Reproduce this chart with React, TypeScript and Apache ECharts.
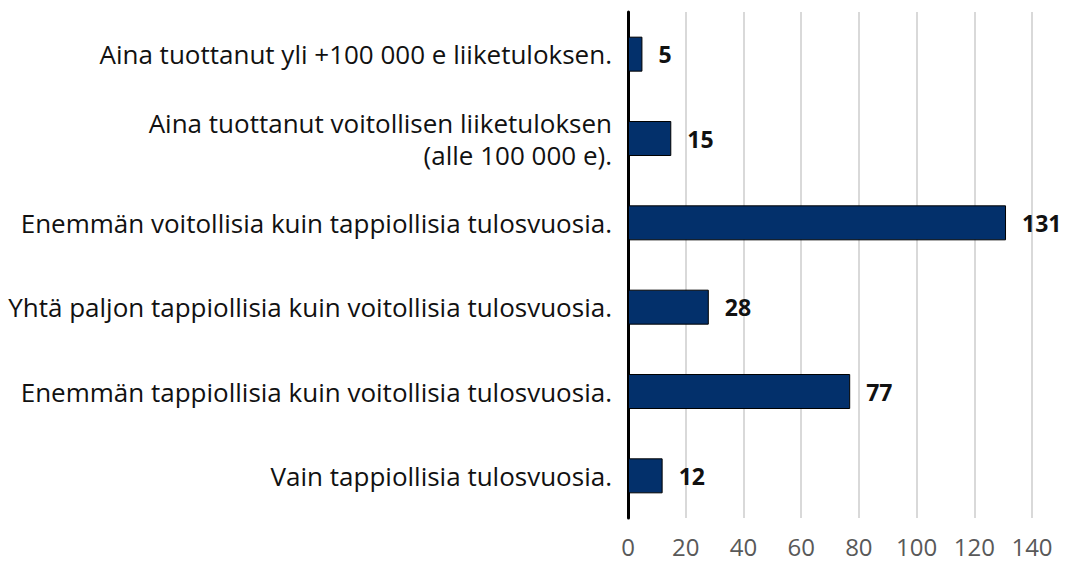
import React, { useEffect, useRef } from "react";
import * as echarts from "echarts";

const categories = [
  "Aina tuottanut yli +100 000 e liiketuloksen.",
  "Aina tuottanut voitollisen liiketuloksen\n(alle 100 000 e).",
  "Enemmän voitollisia kuin tappiollisia tulosvuosia.",
  "Yhtä paljon tappiollisia kuin voitollisia tulosvuosia.",
  "Enemmän tappiollisia kuin voitollisia tulosvuosia.",
  "Vain tappiollisia tulosvuosia.",
];
const values = [5, 15, 131, 28, 77, 12];

const FONT = "'Open Sans', sans-serif";

export default function App() {
  const ref = useRef<HTMLDivElement>(null);
  useEffect(() => {
    document.body.style.margin = "0";
    const chart = echarts.init(ref.current!, null, { renderer: "svg" });
    chart.setOption({
      animation: false,
      grid: { left: 628, right: 36, top: 12, bottom: 46, containLabel: false },
      xAxis: {
        type: "value",
        min: 0,
        max: 140,
        interval: 20,
        axisLine: { show: false },
        axisTick: { show: false },
        splitLine: { show: true, lineStyle: { color: "#d9d9d9", width: 2 } },
        axisLabel: {
          color: "#595959",
          fontSize: 24,
          fontFamily: FONT,
          margin: 16,
          lineHeight: 24,
        },
      },
      yAxis: {
        type: "category",
        data: categories,
        inverse: true,
        axisLine: { show: true, lineStyle: { color: "#000", width: 3 } },
        axisTick: { show: false },
        axisLabel: {
          color: "#111",
          fontSize: 26,
          fontFamily: FONT,
          margin: 16,
          align: "right",
          lineHeight: 32,
        },
      },
      series: [
        {
          type: "bar",
          data: values,
          barWidth: 35,
          itemStyle: { color: "#03306b", borderColor: "#000", borderWidth: 1 },
          label: {
            show: true,
            position: "right",
            distance: 16,
            color: "#111",
            fontSize: 23,
            fontWeight: "bold",
            fontFamily: FONT,
          },
        },
      ],
    });
    return () => chart.dispose();
  }, []);
  return <div ref={ref} style={{ width: 1068, height: 564 }} />;
}
